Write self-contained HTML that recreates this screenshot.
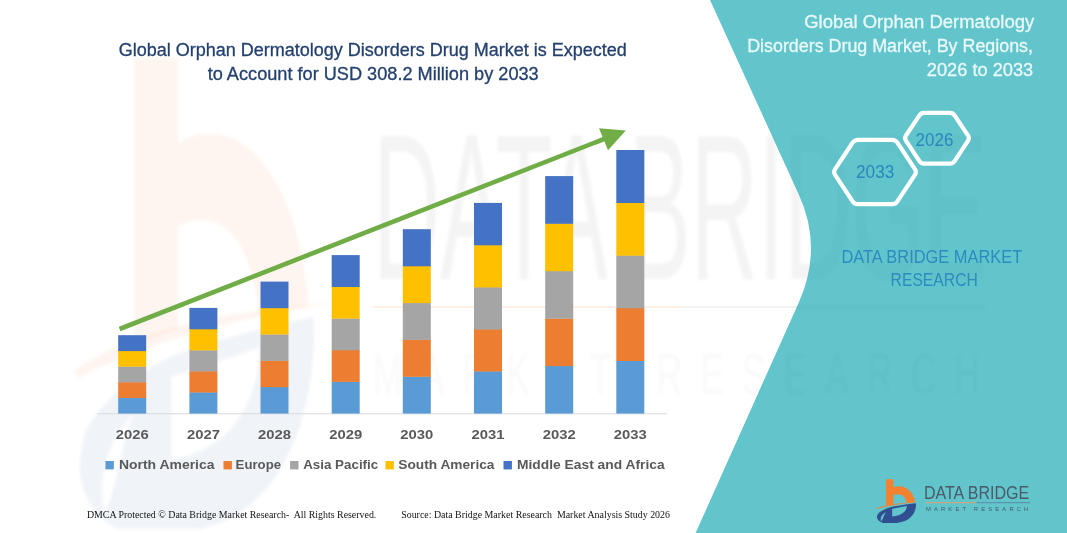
<!DOCTYPE html>
<html lang="en"><head><meta charset="utf-8"><title>Global Orphan Dermatology Disorders Drug Market</title>
<style>html,body{margin:0;padding:0;background:#fff;}body{width:1067px;height:533px;overflow:hidden;font-family:"Liberation Sans",sans-serif;}svg{display:block}
.t{font-family:"Liberation Sans",sans-serif}.s{font-family:"Liberation Serif",serif}</style></head><body>
<svg width="1067" height="533" viewBox="0 0 1067 533">
<rect width="1067" height="533" fill="#ffffff"/>
<defs><filter id="bl" x="-5%" y="-5%" width="110%" height="110%"><feGaussianBlur stdDeviation="1.5"/></filter></defs>
<g id="wm-logo" transform="translate(26,-20.84) scale(0.6754,1.2158)" filter="url(#bl)">
<path d="M160,65 L225,65 L225,135 C310,105 405,160 418,268 L345,277 C335,215 290,185 225,203 L225,288 L160,300 Z" fill="#F4812F" opacity="0.08"/>
<path d="M72,322 C150,290 300,272 455,266 C300,280 170,300 78,328 Z" fill="#F4812F" opacity="0.08"/>
<path d="M88,372 C120,340 175,318 240,305 C300,294 370,284 426,278 C432,350 385,440 255,452 L135,452 C100,442 76,420 80,395 C82,386 84,380 88,372 Z M215,327 L345,303 C345,350 300,388 215,395 Z M158,358 C128,376 104,402 116,440 C134,420 140,385 158,358 Z" fill="#2F4F91" fill-rule="evenodd" opacity="0.06"/>
</g>
<g id="wm-text" class="t" fill="#000" filter="url(#bl)">
<text x="373" y="279" font-size="208" textLength="613" lengthAdjust="spacingAndGlyphs" opacity="0.045">DATA BRIDGE</text>
<text x="373" y="394" font-size="58" letter-spacing="30" textLength="625" lengthAdjust="spacingAndGlyphs" opacity="0.022">MARKET RESEARCH</text>
</g>
<rect x="373" y="306" width="307" height="2" fill="#ED7D31" opacity="0.12"/>
<rect x="680" y="306" width="306" height="2" fill="#000" opacity="0.05"/>
<path d="M710,0 L799,195 Q823,248 799,302 L695.6,533 L1067,533 L1067,0 Z" fill="#62C5CC"/>
<clipPath id="pc"><path d="M710,0 L799,195 Q823,248 799,302 L695.6,533 L1067,533 L1067,0 Z"/></clipPath>
<g class="t" fill="#000" clip-path="url(#pc)"><g filter="url(#bl)">
<text x="373" y="279" font-size="208" textLength="613" lengthAdjust="spacingAndGlyphs" opacity="0.02">DATA BRIDGE</text>
<rect x="720" y="306" width="266" height="2" opacity="0.03"/>
<text x="373" y="394" font-size="58" letter-spacing="30" textLength="625" lengthAdjust="spacingAndGlyphs" opacity="0.015">MARKET RESEARCH</text>
</g></g>
<rect x="97" y="413.3" width="570" height="1" fill="#D9D9D9"/>
<rect x="118.2" y="397.7" width="28.0" height="15.9" fill="#5B9BD5"/>
<rect x="118.2" y="382.1" width="28.0" height="15.9" fill="#ED7D31"/>
<rect x="118.2" y="366.4" width="28.0" height="15.9" fill="#A5A5A5"/>
<rect x="118.2" y="350.8" width="28.0" height="15.9" fill="#FFC000"/>
<rect x="118.2" y="335.2" width="28.0" height="15.9" fill="#4472C4"/>
<rect x="189.4" y="392.2" width="28.0" height="21.4" fill="#5B9BD5"/>
<rect x="189.4" y="371.1" width="28.0" height="21.4" fill="#ED7D31"/>
<rect x="189.4" y="350.1" width="28.0" height="21.4" fill="#A5A5A5"/>
<rect x="189.4" y="329.0" width="28.0" height="21.4" fill="#FFC000"/>
<rect x="189.4" y="307.9" width="28.0" height="21.4" fill="#4472C4"/>
<rect x="260.5" y="387.0" width="28.0" height="26.6" fill="#5B9BD5"/>
<rect x="260.5" y="360.6" width="28.0" height="26.6" fill="#ED7D31"/>
<rect x="260.5" y="334.3" width="28.0" height="26.6" fill="#A5A5A5"/>
<rect x="260.5" y="307.9" width="28.0" height="26.6" fill="#FFC000"/>
<rect x="260.5" y="281.6" width="28.0" height="26.6" fill="#4472C4"/>
<rect x="331.7" y="381.7" width="28.0" height="31.9" fill="#5B9BD5"/>
<rect x="331.7" y="350.0" width="28.0" height="31.9" fill="#ED7D31"/>
<rect x="331.7" y="318.4" width="28.0" height="31.9" fill="#A5A5A5"/>
<rect x="331.7" y="286.7" width="28.0" height="31.9" fill="#FFC000"/>
<rect x="331.7" y="255.1" width="28.0" height="31.9" fill="#4472C4"/>
<rect x="402.8" y="376.5" width="28.0" height="37.1" fill="#5B9BD5"/>
<rect x="402.8" y="339.7" width="28.0" height="37.1" fill="#ED7D31"/>
<rect x="402.8" y="302.8" width="28.0" height="37.1" fill="#A5A5A5"/>
<rect x="402.8" y="266.0" width="28.0" height="37.1" fill="#FFC000"/>
<rect x="402.8" y="229.2" width="28.0" height="37.1" fill="#4472C4"/>
<rect x="474.0" y="371.2" width="28.0" height="42.4" fill="#5B9BD5"/>
<rect x="474.0" y="329.1" width="28.0" height="42.4" fill="#ED7D31"/>
<rect x="474.0" y="287.1" width="28.0" height="42.4" fill="#A5A5A5"/>
<rect x="474.0" y="245.0" width="28.0" height="42.4" fill="#FFC000"/>
<rect x="474.0" y="202.9" width="28.0" height="42.4" fill="#4472C4"/>
<rect x="545.2" y="365.9" width="28.0" height="47.7" fill="#5B9BD5"/>
<rect x="545.2" y="318.4" width="28.0" height="47.7" fill="#ED7D31"/>
<rect x="545.2" y="271.0" width="28.0" height="47.7" fill="#A5A5A5"/>
<rect x="545.2" y="223.5" width="28.0" height="47.7" fill="#FFC000"/>
<rect x="545.2" y="176.1" width="28.0" height="47.7" fill="#4472C4"/>
<rect x="616.3" y="360.6" width="28.0" height="53.0" fill="#5B9BD5"/>
<rect x="616.3" y="308.0" width="28.0" height="53.0" fill="#ED7D31"/>
<rect x="616.3" y="255.3" width="28.0" height="53.0" fill="#A5A5A5"/>
<rect x="616.3" y="202.7" width="28.0" height="53.0" fill="#FFC000"/>
<rect x="616.3" y="150.0" width="28.0" height="53.0" fill="#4472C4"/>
<line x1="119.6" y1="329" x2="604" y2="139" stroke="#70AD47" stroke-width="4.6"/>
<polygon points="599,128.3 625.8,130.4 608,150.2" fill="#70AD47"/>
<g class="t" fill="#24406E" stroke="#24406E" stroke-width="0.3" font-size="18" text-anchor="middle">
<text x="372.8" y="56" textLength="508.2" lengthAdjust="spacingAndGlyphs">Global Orphan Dermatology Disorders Drug Market is Expected</text>
<text x="373.2" y="79.8" textLength="331" lengthAdjust="spacingAndGlyphs">to Account for USD 308.2 Million by 2033</text>
</g>
<g class="t" fill="#595959" font-size="13.3" font-weight="bold" text-anchor="middle">
<text x="132.2" y="438.8" textLength="33" lengthAdjust="spacingAndGlyphs">2026</text>
<text x="203.4" y="438.8" textLength="33" lengthAdjust="spacingAndGlyphs">2027</text>
<text x="274.5" y="438.8" textLength="33" lengthAdjust="spacingAndGlyphs">2028</text>
<text x="345.7" y="438.8" textLength="33" lengthAdjust="spacingAndGlyphs">2029</text>
<text x="416.8" y="438.8" textLength="33" lengthAdjust="spacingAndGlyphs">2030</text>
<text x="488.0" y="438.8" textLength="33" lengthAdjust="spacingAndGlyphs">2031</text>
<text x="559.2" y="438.8" textLength="33" lengthAdjust="spacingAndGlyphs">2032</text>
<text x="630.3" y="438.8" textLength="33" lengthAdjust="spacingAndGlyphs">2033</text>
</g>
<g class="t" fill="#595959" font-size="13.3" font-weight="bold">
<rect x="105.4" y="461" width="8.4" height="8.4" fill="#5B9BD5"/>
<text x="118.9" y="468.9" textLength="95.6" lengthAdjust="spacingAndGlyphs">North America</text>
<rect x="223.5" y="461" width="8.4" height="8.4" fill="#ED7D31"/>
<text x="235.6" y="468.9" textLength="45.5" lengthAdjust="spacingAndGlyphs">Europe</text>
<rect x="290.1" y="461" width="8.4" height="8.4" fill="#A5A5A5"/>
<text x="303.2" y="468.9" textLength="75.0" lengthAdjust="spacingAndGlyphs">Asia Pacific</text>
<rect x="385.4" y="461" width="8.4" height="8.4" fill="#FFC000"/>
<text x="398.3" y="468.9" textLength="96.2" lengthAdjust="spacingAndGlyphs">South America</text>
<rect x="503.5" y="461" width="8.4" height="8.4" fill="#4472C4"/>
<text x="517" y="468.9" textLength="147.6" lengthAdjust="spacingAndGlyphs">Middle East and Africa</text>
</g>
<g class="s" fill="#111" font-size="9.5">
<text x="86.9" y="517.5" textLength="289.4" lengthAdjust="spacingAndGlyphs" xml:space="preserve">DMCA Protected © Data Bridge Market Research-  All Rights Reserved.</text>
<text x="401.2" y="517.5" textLength="268.8" lengthAdjust="spacingAndGlyphs" xml:space="preserve">Source: Data Bridge Market Research  Market Analysis Study 2026</text>
</g>
<g class="t" fill="#EAF9FA" stroke="#EAF9FA" stroke-width="0.3" font-size="18" text-anchor="end">
<text x="1034.2" y="28.2" textLength="230" lengthAdjust="spacingAndGlyphs">Global Orphan Dermatology</text>
<text x="1033" y="52.1" textLength="285.8" lengthAdjust="spacingAndGlyphs">Disorders Drug Market, By Regions,</text>
<text x="1033.2" y="75.7" textLength="106.4" lengthAdjust="spacingAndGlyphs">2026 to 2033</text>
</g>
<g fill="none" stroke="#ffffff" stroke-width="4.2" stroke-linejoin="round">
<path d="M835.1,174.9 Q833.2,172.0 835.1,169.1 L852.6,142.7 Q854.5,139.8 858.0,139.8 L892.0,139.8 Q895.5,139.8 897.4,142.7 L914.9,169.1 Q916.8,172.0 914.9,174.9 L897.4,201.3 Q895.5,204.2 892.0,204.2 L858.0,204.2 Q854.5,204.2 852.6,201.3 Z"/>
<path d="M905.9,140.7 Q904.3,138.2 905.9,135.7 L919.4,115.3 Q921.0,112.8 924.0,112.8 L950.0,112.8 Q953.0,112.8 954.6,115.3 L968.1,135.7 Q969.7,138.2 968.1,140.7 L954.6,161.2 Q953.0,163.7 950.0,163.7 L924.0,163.7 Q921.0,163.7 919.4,161.2 Z"/>
</g>
<g class="t" fill="#2A86BD" font-size="18">
<text x="856" y="177.6" textLength="38.3" lengthAdjust="spacingAndGlyphs">2033</text>
<text x="915.6" y="145.5" textLength="37.8" lengthAdjust="spacingAndGlyphs">2026</text>
</g>
<g class="t" fill="#2E8BC0" font-size="17.6">
<text x="841.4" y="262.6" textLength="180.8" lengthAdjust="spacingAndGlyphs">DATA BRIDGE MARKET</text>
<text x="890.6" y="286.3" textLength="87.2" lengthAdjust="spacingAndGlyphs">RESEARCH</text>
</g>
<g id="logo" transform="translate(868,472) scale(0.11257)">
<path d="M160,65 L225,65 L225,135 C310,105 405,160 418,268 L345,277 C335,215 290,185 225,203 L225,288 L160,300 Z" fill="#F4812F"/>
<path d="M72,322 C150,290 300,272 455,266 C300,280 170,300 78,328 Z" fill="#F4812F"/>
<path d="M88,372 C120,340 175,318 240,305 C300,294 370,284 426,278 C432,350 385,440 255,452 L135,452 C100,442 76,420 80,395 C82,386 84,380 88,372 Z M215,327 L345,303 C345,350 300,388 215,395 Z M158,358 C128,376 104,402 116,440 C134,420 140,385 158,358 Z" fill="#2F4F91" fill-rule="evenodd"/>
</g>
<g class="t" fill="#4A5A6A">
<text x="924" y="499.2" font-size="17.9" textLength="105.2" lengthAdjust="spacingAndGlyphs">DATA BRIDGE</text>
<text x="925.9" y="511.3" font-size="5.8" textLength="102.4" lengthAdjust="spacing">MARKET RESEARCH</text>
</g>
<rect x="925.5" y="502.2" width="51" height="1" fill="#E0A070"/>
<rect x="976.5" y="502.2" width="53.5" height="1" fill="#5A8AA8"/>
</svg></body></html>
